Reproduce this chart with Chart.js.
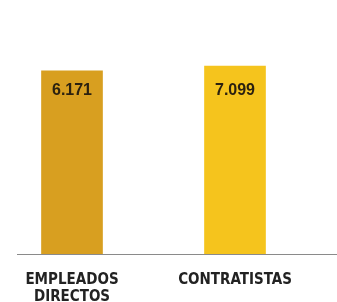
<!DOCTYPE html>
<html>
<head>
    <title>Empleados vs contratistas</title>
    <script src="https://cdn.jsdelivr.net/npm/chart.js"></script>
    <style>
        html, body {
            margin: 0;
            padding: 0;
            background: #ffffff;
        }

        #wrap {
            width: 337px;
            height: 302px;
        }
    </style>
</head>
<body>
    <div id="wrap"><canvas id="chart"></canvas></div>

    <script>
        const categories = [['EMPLEADOS', 'DIRECTOS'], ['CONTRATISTAS']];
        const values = [6171, 7099];
        const valueLabels = ['6.171', '7.099'];
        const barColors = ['#d89f20', '#f5c41d'];

        // las barras no estan a escala desde cero en el original
        const axisMin = -30000;
        const axisMax = 16000;

        // linea base gris bajo las barras
        const baseLine = {
            id: 'baseLine',
            afterDatasetsDraw(chart) {
                const ctx = chart.ctx;
                const y = chart.chartArea.bottom + 0.5;
                ctx.save();
                ctx.strokeStyle = '#8a8a8a';
                ctx.lineWidth = 1;
                ctx.beginPath();
                ctx.moveTo(17, y);
                ctx.lineTo(chart.width, y);
                ctx.stroke();
                ctx.restore();
            }
        };

        // valores dentro de cada barra, todos a la misma altura
        const barValues = {
            id: 'barValues',
            afterDatasetsDraw(chart) {
                const ctx = chart.ctx;
                const meta = chart.getDatasetMeta(0);
                const top = Math.min(...meta.data.map(b => b.y));
                ctx.save();
                ctx.font = 'bold 16px "Liberation Sans", Arial, sans-serif';
                ctx.fillStyle = '#2b2110';
                ctx.textAlign = 'center';
                ctx.textBaseline = 'middle';
                meta.data.forEach((bar, i) => {
                    ctx.fillText(valueLabels[i], bar.x, top + 25);
                });
                ctx.restore();
            }
        };

        new Chart(document.getElementById('chart'), {
            type: 'bar',
            data: {
                labels: categories,
                datasets: [{
                    data: values,
                    base: axisMin,
                    backgroundColor: barColors,
                    barThickness: 61,
                    clip: false
                }]
            },
            options: {
                responsive: true,
                maintainAspectRatio: false,
                animation: false,
                layout: {
                    padding: { top: 21, left: 72, right: 102, bottom: 0 }
                },
                plugins: {
                    legend: { display: false },
                    tooltip: { enabled: false }
                },
                scales: {
                    x: {
                        offset: false,
                        grid: { display: false, drawTicks: false },
                        border: { display: false },
                        ticks: {
                            padding: 18,
                            color: '#222222',
                            font: {
                                family: '"Liberation Sans Narrow", "DejaVu Sans Condensed", sans-serif',
                                size: 15,
                                weight: 'bold',
                                lineHeight: 1.1
                            },
                            maxRotation: 0,
                            autoSkip: false
                        },
                        afterFit(scale) {
                            scale.height = 48;
                        }
                    },
                    y: {
                        display: false,
                        min: axisMin,
                        max: axisMax
                    }
                }
            },
            plugins: [baseLine, barValues]
        });
    </script>
</body>
</html>
